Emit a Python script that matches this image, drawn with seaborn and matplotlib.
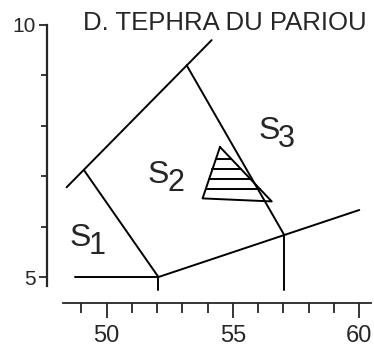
import numpy as np
import pandas as pd
import seaborn as sns
import matplotlib.pyplot as plt

# field boundaries (SiO2 wt% on x, Na2O+K2O wt% on y)
upper_x = [48.41, 54.16]
upper_y = [6.78, 9.70]
s1s2_x = [49.10, 52.05]
s1s2_y = [7.12, 5.00]
base_x = [48.75, 52.05]
base_y = [5.00, 5.00]
foot52_x = [52.05, 52.05]
foot52_y = [5.00, 4.75]
lower_x = [52.05, 60.01]
lower_y = [5.00, 6.33]
s2s3_x = [53.17, 57.03]
s2s3_y = [9.20, 5.84]
foot57_x = [57.03, 57.03]
foot57_y = [5.84, 4.75]

# tephra field (hatched triangle)
tephra_x = [54.49, 53.80, 56.54, 54.49]
tephra_y = [7.58, 6.56, 6.50, 7.58]
hatch_y = [7.34, 7.14, 6.94, 6.75]

region_labels = ["S1", "S2", "S3"]
label_x = [48.94, 52.05, 56.43]
label_y = [5.77, 7.02, 7.89]

title = "D. TEPHRA DU PARIOU"
xticks = [50, 55, 60]
yticks = [5, 10]

sns.set_style("ticks")
plt.rcParams["font.family"] = ["Liberation Sans", "DejaVu Sans"]


def build_segments():
    segs = [
        (upper_x, upper_y), (s1s2_x, s1s2_y), (base_x, base_y),
        (foot52_x, foot52_y), (lower_x, lower_y), (s2s3_x, s2s3_y),
        (foot57_x, foot57_y), (tephra_x, tephra_y),
    ]
    # hatch lines run between the two sloping edges of the triangle
    for h in hatch_y:
        xl = np.interp(h, [tephra_y[1], tephra_y[0]], [tephra_x[1], tephra_x[0]])
        xr = np.interp(h, [tephra_y[2], tephra_y[0]], [tephra_x[2], tephra_x[0]])
        segs.append(([xl, xr], [h, h]))
    rows = []
    for i, (xs, ys) in enumerate(segs):
        for x, y in zip(xs, ys):
            rows.append([i, x, y])
    return pd.DataFrame(rows, columns=["seg", "x", "y"])


df = build_segments()

fig = plt.figure(figsize=(3.74, 3.49), dpi=100)
ax = fig.add_axes([46.5 / 374, 46 / 349, 324.5 / 374, 278 / 349])

sns.lineplot(data=df, x="x", y="y", units="seg", estimator=None, sort=False,
             color="black", linewidth=1.4, ax=ax)
ax.set(xlabel="", ylabel="")
ax.set_xlim(47.614, 60.475)
ax.set_ylim(4.485, 9.99)

sns.despine(ax=ax)
ax.spines["left"].set_bounds(4.815, 10)
ax.spines["bottom"].set_bounds(48.28, 60.475)
ax.spines["left"].set_linewidth(1.6)
ax.spines["bottom"].set_linewidth(1.3)

ax.set_xticks(xticks)
ax.set_xticks(range(49, 61), minor=True)
ax.set_yticks(yticks)
ax.set_yticks(range(6, 10), minor=True)
ax.tick_params(axis="x", which="major", length=10.5, width=1.3, labelsize=17, pad=5)
ax.tick_params(axis="x", which="minor", length=7, width=1.3)
ax.tick_params(axis="y", which="major", length=6, width=1.3, labelsize=15, pad=2)
ax.tick_params(axis="y", which="minor", length=4, width=1.3)

for lab, x, y in zip(region_labels, label_x, label_y):
    ax.text(x, y, lab[0], fontsize=23, ha="center", va="center")
    ax.annotate(lab[1:], (x, y), xytext=(6.5, -5.5), textcoords="offset points",
                fontsize=22, ha="left", va="center")

ax.text(0.1134, 0.982, title, transform=ax.transAxes, fontsize=18.5,
        ha="left", va="baseline")

fig.savefig("out.png", dpi=100)
